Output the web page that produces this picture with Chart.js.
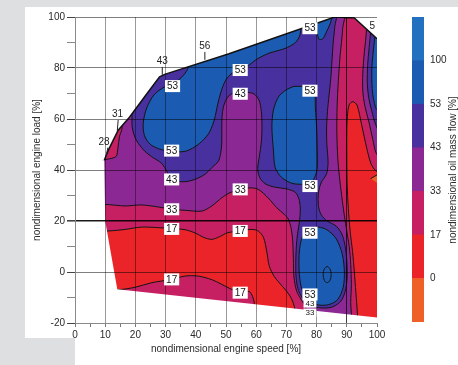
<!DOCTYPE html>
<html>
<head>
<meta charset="utf-8">
<script src="https://cdn.jsdelivr.net/npm/chart.js@4.4.1/dist/chart.umd.min.js"></script>
<style>
  html, body { margin: 0; padding: 0; }
  body { width: 458px; height: 365px; background: #dedfe1; position: relative; overflow: hidden; }
  #panel { position: absolute; left: 25px; top: 7px; width: 433px; height: 358px; background: #fff; }
  #notch { position: absolute; left: 0; top: 338px; width: 75px; height: 27px; background: #dedfe1; }
  #main { position: absolute; left: 0; top: 0; }
  #bar { position: absolute; left: 405px; top: 0; }
</style>
</head>
<body>
<div id="panel"></div>
<div id="notch"></div>
<canvas id="main" width="458" height="365"></canvas>
<canvas id="bar" width="53" height="365"></canvas>
<script>
// colour bar levels (bottom to top) and boundary labels
const levelColors = ['#ee6028', '#ea2428', '#c62062', '#8b2893', '#48309e', '#1b5cb2', '#2270c0'];
const levelLabels = ['0', '17', '33', '43', '53', '100'];

// full load curve = top edge of the measured map
const fullLoad = [[9.7, 43.8], [11, 47.7], [14.3, 55.6], [18.1, 60.8], [23, 68.6], [28, 76.5], [29.7, 77.5],
  [51, 85.6], [86, 100], [92.5, 99.6], [100, 91.5]];
const maskTop = [[-5, 105], [105, 105], [105, 91.5], [100, 91.5], [92.5, 99.6], [86, 100], [51, 85.6], [29.7, 77.5],
  [28, 76.5], [23, 68.6], [18.1, 60.8], [14.3, 55.6], [11, 47.7], [9.7, 43.8], [9, 43.8], [9, 40], [-5, 40]];
const maskBottom = [[-5, 44], [9.7, 43.8], [10, 20], [14, -6.8], [100, -17.8], [105, -18.4], [105, -25], [-5, -25]];
const basePlane = [[-5, -25], [105, -25], [105, 105], [-5, 105]];

// regions below 17
const red1 = [[5, 16.1], [11, 16.1], [16.6, 16.7], [22, 17.6], [27.6, 17.4], [32, 17], [36.4, 16.6], [40, 15.2],
  [42.5, 13.6], [45.3, 12.8], [47.8, 13.8], [50.5, 15.4], [54.7, 16.1], [58, 16.7], [60.5, 16.2], [62.4, 13.6],
  [63.5, 8], [64.3, 2.5], [66, -1.8], [68.8, -5.8], [71.2, -9.4], [72.6, -13.5], [73.5, -22], [60, -22],
  [59.4, -12.4], [58.8, -9.6], [57.6, -7.6], [54.7, -8], [51.5, -6.6], [48.5, -4.8], [45.3, -3], [40.8, -1.6],
  [36.4, -1.6], [32, -2.9], [25.4, -4.2], [19.9, -6], [14.6, -6.9], [10, -6.6], [5, -6.6]];
const red2 = [[93.8, -22], [93.5, -16], [93, -8], [92.5, 0], [91.9, 8], [91.1, 16], [90.5, 25], [90.1, 35],
  [90, 45], [90, 55], [90.2, 61], [90.8, 65.6], [92, 66.8], [93.4, 65.4], [94.9, 57.8], [96.6, 48.6],
  [98, 42.5], [99.5, 39.8], [101, 39.2], [106, 39.2], [106, -22]];
const orange1 = [[97.9, 36.6], [101, 38.8], [101, 34.2]];

// regions above 33
const purple1 = [[5, 106], [88.7, 106], [88.6, 95], [87.8, 85], [87.2, 75], [86.8, 65], [86.7, 55], [87, 45],
  [87.5, 38], [88.3, 30], [89.2, 22], [90, 16], [90.8, 10], [91.3, 3], [91.5, -5], [91.3, -12], [91.5, -16],
  [91.8, -23], [77, -23], [76.4, -14], [75, -11], [73.4, -7.5], [72.5, -2], [72.3, 5], [72.1, 12], [71.6, 17],
  [70.6, 20.8], [69.3, 22.6], [66.8, 25.2], [64, 29], [60.7, 32.4], [58, 33], [54.7, 32.4], [51.3, 31.1],
  [48.6, 29.1], [45.3, 25.9], [42, 23.9], [36.4, 24.2], [32, 24.6], [27.6, 25.5], [22, 26.3], [16.6, 25.9],
  [10.2, 26.5], [5, 26.5], [5, 44], [9.4, 44], [10.6, 44.2], [13.6, 45.3], [14.2, 48.5], [14.7, 53],
  [15.6, 56.6], [15, 64], [5, 64]];
const purple2 = [[96.2, 104], [96.5, 95], [95.8, 86], [95.3, 78], [95.3, 71], [96, 65], [97.3, 59],
  [98.6, 52], [99.6, 47], [101, 45], [106, 45], [106, 104]];

// regions above 43
const indigo1 = [[17, 70], [18.8, 62.2], [18.9, 57], [19.8, 53], [21, 50.4], [23, 47.5], [25.4, 45.2],
  [28.7, 42.6], [30.5, 39.3], [32, 36.6], [34, 35.6], [36.4, 35.4], [39.7, 36.3], [43, 38.3], [45.3, 40.9],
  [47.5, 43.5], [48.3, 47], [48.6, 51], [48.6, 56], [48.7, 61], [49.2, 65], [50.5, 68.5], [52.5, 70.3],
  [54.7, 70.4], [57, 70.5], [59.3, 69.8], [60.9, 67.5], [61.7, 63], [61.9, 57], [61.7, 51], [61, 45],
  [60.5, 40.5], [61.2, 37], [63, 34.6], [66, 33.3], [70, 32.6], [73, 31.2], [74.3, 28], [74.6, 24],
  [74.3, 19.5], [73.7, 15], [73.3, 10], [73.1, 4], [73.2, -2], [73.8, -6.5], [75.1, -9.8], [77.3, -12.8],
  [80.6, -14], [85, -13.8], [88.3, -11], [89.9, -5], [90.1, 2], [89.6, 9], [88.5, 14.5], [86.5, 18],
  [83.5, 20], [81.5, 22.5], [80.6, 26], [80.6, 31], [81.5, 35], [83.3, 38.5], [83.8, 43], [83.4, 50],
  [83.3, 56], [83.6, 63], [84.1, 69], [84.7, 76], [85.1, 83], [85.5, 90], [86, 96], [86.3, 104], [28, 90]];
const indigo2 = [[97.8, 104], [97.9, 95], [97.4, 88], [96.9, 81], [96.8, 74], [97.3, 68], [98.3, 63],
  [99.5, 58], [101, 55], [106, 55], [106, 104]];

// regions above 53
const blue1 = [[38, 85], [37.5, 80.2], [35.8, 77], [33.1, 74.3], [29.5, 72.5], [26.2, 69.5], [23.8, 64.5],
  [22.6, 58.5], [23, 53.5], [25, 50], [28.5, 48], [32, 47.3], [36.4, 47.3], [39.7, 49.1], [42.5, 51.8],
  [44.6, 55], [46.2, 60], [47.2, 65.5], [48.3, 70.5], [49.8, 75], [52, 78], [54.7, 79.3], [57.5, 81],
  [60, 83.3], [64, 85.7], [69.6, 87.7], [73, 90], [74.5, 93], [75, 100]];
const blue2 = [[79.8, 102], [80.1, 95.5], [80.7, 91.4], [82, 91.4], [83.4, 94.5], [84.8, 98.5], [85.3, 104]];
const blue3 = [[72.5, 72.8], [75.1, 72.8], [77.8, 72.4], [79.3, 70.5], [79.6, 64.3], [80, 57], [80.2, 48.6],
  [80.2, 40.5], [79.3, 37], [77.8, 34.6], [75, 34.4], [71.8, 34.8], [68.5, 37], [66.3, 40.9], [65.7, 47.8],
  [65.2, 57], [65.7, 63.5], [67.4, 68.7], [70, 71.5], [72.5, 72.8]];
const blue4 = [[78, 17], [80.6, 17.6], [83.5, 16.5], [86.5, 13], [88.5, 7], [89.2, 0], [88.8, -6], [87, -10.8],
  [84, -12.8], [80.6, -12.9], [77.5, -11.3], [75.2, -7], [74.3, -1], [74.2, 6.5], [74.8, 12], [76, 15.5], [78, 17]];
const blue5 = [[99.6, 104], [99.4, 94], [98.8, 87], [98.3, 80], [98.4, 72], [99, 67], [100.2, 63.5], [106, 63], [106, 104]];
const ring100 = [[83.5, 2.2], [84.4, 1.3], [84.8, -1], [84.4, -3.3], [83.5, -4.2], [82.6, -3.3], [82.2, -1],
  [82.6, 1.3], [83.5, 2.2]];

// contour labels [x, y, text, small]
const contourLabels = [[32.3, 72.9, '53'], [32, 47.6, '53'], [32, 36.3, '43'], [32, 24.6, '33'], [32, 16.9, '17'],
  [32, -2.9, '17'], [54.7, 79.2, '53'], [54.7, 69.9, '43'], [77.8, 71.1, '53'], [77.8, 95.6, '53'],
  [54.7, 32.4, '33'], [54.7, 16.1, '17'], [54.7, -8.1, '17'], [77.8, 33.7, '53'], [77.8, 15.4, '53'],
  [77.8, -8.8, '53'], [77.8, -12.4, '43', true], [77.8, -15.9, '33', true]];
const edgeLabels = [[43, 88.5, '56'], [28.9, 82.6, '43'], [14.1, 61.9, '31'], [9.6, 50.8, '28'], [98.4, 96.4, '5']];
const leaders = [[[43, 86.3], [43, 83.2]], [[28.9, 80.4], [28.9, 77.3]], [[14.3, 59.6], [14, 55.3]],
  [[10.9, 48.8], [10.3, 45.5]]];

const FONT = '"Liberation Sans", Arial, sans-serif';
Chart.defaults.font.family = FONT;
Chart.defaults.font.size = 10;
Chart.defaults.color = '#2a2a2a';

const pts = (arr) => arr.map(([x, y]) => ({ x, y }));
const [cOrange, cRed, cCrimson, cPurple, cIndigo, cBlue] = levelColors;

function region(points, color, outlined, tension) {
  return {
    data: pts(points),
    backgroundColor: color,
    borderColor: '#141414',
    borderWidth: outlined ? 1 : 0,
    fill: 'shape',
    tension: tension === undefined ? 0.3 : tension,
  };
}

const datasets = [
  region(basePlane, cCrimson, false, 0),
  region(red1, cRed, true),
  region(red2, cRed, true),
  region(orange1, cOrange, true, 0),
  region(purple1, cPurple, true),
  region(purple2, cPurple, true),
  region(indigo1, cIndigo, true),
  region(indigo2, cIndigo, true),
  region(blue1, cBlue, true),
  region(blue2, cBlue, true),
  region(blue3, cBlue, true),
  region(blue4, cBlue, true),
  region(blue5, cBlue, true),
  { data: pts(ring100), fill: false, borderColor: '#141414', borderWidth: 1, tension: 0.4 },
  region(maskTop, '#ffffff', false, 0),
  region(maskBottom, '#ffffff', false, 0),
  { data: pts(fullLoad), fill: false, borderColor: '#111', borderWidth: 1.5, tension: 0 },
].map((d, i) => Object.assign(d, { order: -i, pointRadius: 0, pointHoverRadius: 0 }));

const overlay = {
  id: 'overlay',
  afterDraw(chart) {
    const { ctx, chartArea, scales: { x, y } } = chart;
    const px = (v) => x.getPixelForValue(v);
    const py = (v) => y.getPixelForValue(v);
    ctx.save();
    ctx.strokeStyle = '#222';
    ctx.lineWidth = 1;
    leaders.forEach(([a, b]) => {
      ctx.beginPath();
      ctx.moveTo(px(a[0]), py(a[1]));
      ctx.lineTo(px(b[0]), py(b[1]));
      ctx.stroke();
    });
    ctx.textAlign = 'center';
    ctx.textBaseline = 'middle';
    ctx.fillStyle = '#222';
    ctx.font = '10px ' + FONT;
    edgeLabels.forEach(([vx, vy, t]) => ctx.fillText(t, px(vx), py(vy)));
    contourLabels.forEach(([vx, vy, t, small]) => {
      ctx.font = (small ? '8px ' : '10px ') + FONT;
      const w = ctx.measureText(t).width + 4;
      const h = small ? 8 : 12;
      ctx.fillStyle = '#fff';
      ctx.fillRect(px(vx) - w / 2, py(vy) - h / 2, w, h);
      ctx.fillStyle = '#151515';
      ctx.fillText(t, px(vx), py(vy) + 0.5);
    });
    ctx.font = '10px ' + FONT;
    ctx.fillStyle = '#2a2a2a';
    ctx.fillText('nondimensional engine speed [%]', (chartArea.left + chartArea.right) / 2, chartArea.bottom + 26);
    ctx.translate(chartArea.left - 38, (chartArea.top + chartArea.bottom) / 2);
    ctx.rotate(-Math.PI / 2);
    ctx.fillText('nondimensional engine load [%]', 0, 0);
    ctx.restore();
    ctx.save();
    ctx.font = '10px ' + FONT;
    ctx.fillStyle = '#2a2a2a';
    ctx.textAlign = 'center';
    ctx.textBaseline = 'middle';
    ctx.translate(chart.width - 5, (chartArea.top + chartArea.bottom) / 2);
    ctx.rotate(-Math.PI / 2);
    ctx.fillText('nondimensional oil mass flow [%]', 0, 0);
    ctx.restore();
  },
};

new Chart(document.getElementById('main'), {
  type: 'line',
  data: { datasets },
  options: {
    responsive: false,
    animation: false,
    events: [],
    layout: { padding: { left: 0, top: 17, right: 81, bottom: 0 } },
    plugins: { legend: { display: false }, tooltip: { enabled: false } },
    scales: {
      x: {
        type: 'linear',
        min: 0,
        max: 100,
        border: { color: '#8a8a8a', z: 1 },
        grid: {
          z: 1,
          tickLength: 4,
          tickColor: '#777',
          color: (c) => {
            const v = c.tick ? c.tick.value : 0;
            if (v % 10 !== 0 || v === 0 || v === 100) return 'rgba(0,0,0,0)';
            return v === 90 ? 'rgba(0,0,0,0.75)' : 'rgba(0,0,0,0.4)';
          },
        },
        ticks: { stepSize: 5, autoSkip: false, maxRotation: 0, padding: 2, callback: (v) => (v % 10 === 0 ? v : '') },
        afterFit: (s) => { s.height = 42; },
      },
      y: {
        type: 'linear',
        min: -20,
        max: 100,
        border: { color: '#8a8a8a', z: 1 },
        grid: {
          z: 1,
          tickLength: 8,
          tickColor: (c) => (c.tick && c.tick.value % 20 === 0 ? '#444' : '#888'),
          lineWidth: (c) => (c.tick && c.tick.value === 20 ? 1.6 : 1),
          color: (c) => {
            const v = c.tick ? c.tick.value : 0;
            if (v % 20 !== 0 || v === -20) return 'rgba(0,0,0,0)';
            return v === 20 ? 'rgba(0,0,0,0.9)' : 'rgba(0,0,0,0.5)';
          },
        },
        ticks: { stepSize: 10, autoSkip: false, padding: 2, callback: (v) => (v % 20 === 0 ? v : '') },
        afterFit: (s) => { s.width = 75; },
      },
    },
  },
  plugins: [overlay],
});

// colour bar
new Chart(document.getElementById('bar'), {
  type: 'bar',
  data: {
    labels: [''],
    datasets: levelColors.map((c) => ({
      data: [1], backgroundColor: c, borderWidth: 0, barPercentage: 1, categoryPercentage: 1,
    })),
  },
  options: {
    responsive: false,
    animation: false,
    events: [],
    layout: { padding: { left: 7, top: 17, bottom: 43, right: 0 } },
    plugins: { legend: { display: false }, tooltip: { enabled: false } },
    scales: {
      x: { display: false, stacked: true },
      y: {
        stacked: true,
        position: 'right',
        min: 0,
        max: 7,
        grid: { display: false, drawTicks: false },
        border: { display: false },
        ticks: {
          stepSize: 1,
          autoSkip: false,
          padding: 6,
          callback: (v) => (v >= 1 && v <= 6 ? levelLabels[v - 1] : ''),
        },
        afterFit: (s) => { s.width = 34; },
      },
    },
  },
});
</script>
</body>
</html>
